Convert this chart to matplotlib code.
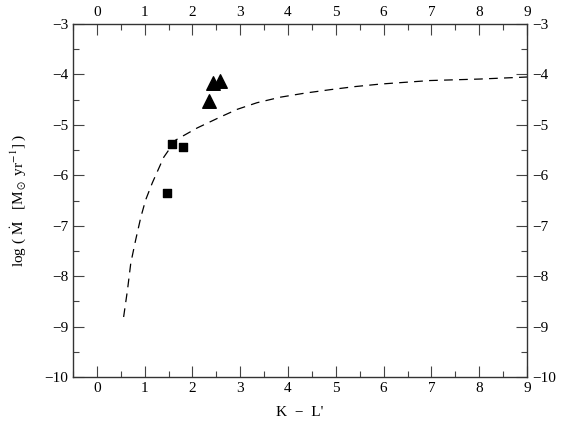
import matplotlib
matplotlib.use("Agg")
import matplotlib.pyplot as plt
from matplotlib.ticker import MultipleLocator

# Data
sq_x = [1.46, 1.57, 1.80]
sq_y = [-6.35, -5.38, -5.44]
tri_x = [2.34, 2.44, 2.57]
tri_y = [-4.53, -4.17, -4.13]
curve_x = [0.56, 0.64, 0.71, 0.81, 0.92, 1.02, 1.16, 1.40, 1.65, 2.10,
           2.59, 2.94, 3.35, 3.84, 4.35, 4.89, 5.40, 5.93, 6.97, 8.02, 9.00]
curve_y = [-8.81, -8.28, -7.74, -7.29, -6.83, -6.49, -6.15, -5.64, -5.30,
           -5.06, -4.84, -4.69, -4.56, -4.45, -4.37, -4.30, -4.24, -4.19,
           -4.12, -4.09, -4.05]
x_ticks = [0, 1, 2, 3, 4, 5, 6, 7, 8, 9]
y_ticks = [-10, -9, -8, -7, -6, -5, -4, -3]

plt.rcParams['font.family'] = ['Liberation Serif', 'DejaVu Serif']
plt.rcParams['mathtext.fontset'] = 'stix'

fig = plt.figure(figsize=(5.7, 4.3), dpi=100)
ax = fig.add_axes([0.128, 0.1233, 0.7966, 0.8207])

ax.plot(curve_x, curve_y, color='black', lw=0.9, ls=(0, (7, 5)))
ax.scatter(sq_x, sq_y, marker='s', s=26, color='black', zorder=3)
ax.scatter(tri_x, tri_y, marker='^', s=95, color='black', zorder=3)

ax.set_xlim(-0.5, 9)
ax.set_ylim(-10, -3)
ax.set_xticks(x_ticks)
ax.set_yticks(y_ticks)
ax.set_xticklabels([str(v) for v in x_ticks])
ax.set_yticklabels(['\u2212' + str(abs(v)) for v in y_ticks])
ax.xaxis.set_minor_locator(MultipleLocator(0.5))
ax.yaxis.set_minor_locator(MultipleLocator(0.5))
ax.tick_params(which='both', direction='in', top=True, right=True,
               labeltop=True, labelright=True, labelsize=11, width=0.8,
               color='#444444')
ax.tick_params(which='major', length=8)
ax.tick_params(which='minor', length=4)
for s in ax.spines.values():
    s.set_linewidth(1.0)
    s.set_color('#333333')

ax.set_xlabel("K  \u2212  L'", fontsize=11, labelpad=8)
ax.set_ylabel(r'log ( $\dot{\rm M}$   [M$_\odot$ yr$^{-1}$] )', fontsize=11,
              labelpad=12)

fig.savefig('out.png', dpi=100)
